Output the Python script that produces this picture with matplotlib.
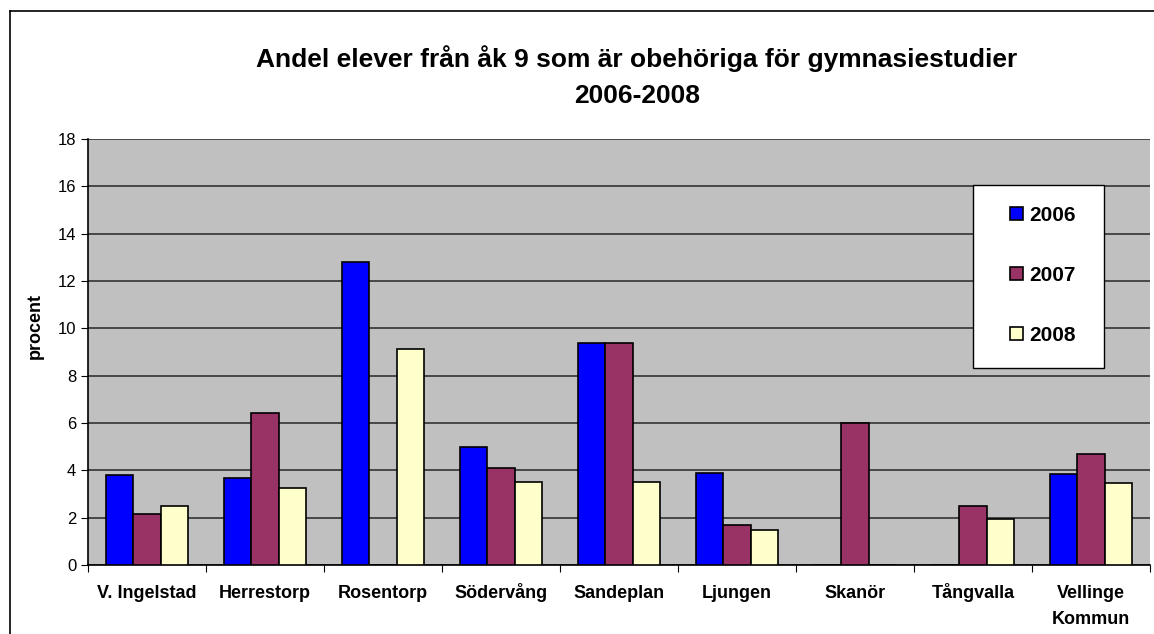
import matplotlib.pyplot as plt
import numpy as np
from matplotlib.lines import Line2D
from matplotlib.patches import Rectangle
from matplotlib.transforms import blended_transform_factory

plt.rcParams['font.family'] = ['Liberation Sans', 'DejaVu Sans']

# Andel obehöriga elever per skola och år
skolor = ['V. Ingelstad', 'Herrestorp', 'Rosentorp', 'Södervång', 'Sandeplan',
          'Ljungen', 'Skanör', 'Tångvalla', 'Vellinge\nKommun']
ar = ['2006', '2007', '2008']
v2006 = [3.8, 3.66, 12.79, 4.97, 9.39, 3.89, 0, 0, 3.83]
v2007 = [2.15, 6.41, 0, 4.1, 9.39, 1.70, 5.99, 2.51, 4.68]
v2008 = [2.5, 3.24, 9.11, 3.52, 3.52, 1.48, 0, 1.93, 3.45]
farger = ['#0000FF', '#993366', '#FFFFCC']

W, H = 1154, 634
fig = plt.figure(figsize=(W / 100, H / 100), dpi=100)

# ram runt diagrammet
fig.add_artist(Line2D([10 / W, 10 / W], [0, 1 - 11 / H], color='black', lw=1.2))
fig.add_artist(Line2D([10 / W, 1], [1 - 11 / H, 1 - 11 / H], color='black', lw=1.2))

ax = fig.add_axes([88 / W, (H - 565) / H, 1062 / W, 426 / H])
ax.set_facecolor('#C0C0C0')

x = np.arange(len(skolor))
bw = 0.23
for i, (vals, f) in enumerate(zip([v2006, v2007, v2008], farger)):
    ax.bar(x + (i - 1) * bw, vals, bw, color=f, edgecolor='black', linewidth=1.2,
           label=ar[i], zorder=3)

ax.set_xlim(-0.5, len(skolor) - 0.5)
ax.set_ylim(0, 18)
ax.set_yticks(range(0, 19, 2))
ax.yaxis.grid(True, color='#333333', linewidth=1.2, zorder=1)
ax.set_axisbelow(True)

ax.set_xticks(np.arange(len(skolor) + 1) - 0.5)
ax.set_xticklabels([])
ax.tick_params(axis='x', which='major', length=5, direction='out')
ax.tick_params(axis='y', labelsize=12, length=5, direction='out')

# kategorietiketter på gemensam baslinje
trans = blended_transform_factory(ax.transData, fig.transFigure)
for xi, namn in zip(x, skolor):
    for k, rad in enumerate(namn.split('\n')):
        ax.text(xi, 1 - (598 + 26 * k) / H, rad, transform=trans, ha='center',
                va='baseline', fontsize=13, fontweight='bold')

for s in ['top', 'right']:
    ax.spines[s].set_visible(False)
ax.spines['left'].set_linewidth(1.2)
ax.spines['bottom'].set_linewidth(1.2)

ax.set_ylabel('procent', fontweight='bold', fontsize=13)
ax.yaxis.set_label_coords(-0.042, (565 - 326) / 426)

fig.text(637 / W, 1 - 67 / H, 'Andel elever från åk 9 som är obehöriga för gymnasiestudier',
         ha='center', va='baseline', fontsize=19, fontweight='bold')
fig.text(637 / W, 1 - 103 / H, '2006-2008', ha='center', va='baseline',
         fontsize=19, fontweight='bold')

# legendruta
lx0, lx1, ly0, ly1 = 973, 1104, 185, 368
ax.add_patch(Rectangle(((lx0 - 88) / 1062, (565 - ly1) / 426), (lx1 - lx0) / 1062,
                       (ly1 - ly0) / 426, transform=ax.transAxes, facecolor='white',
                       edgecolor='black', linewidth=1.0, zorder=5))
leg = ax.legend(loc='upper left', bbox_to_anchor=((1010 - 88) / 1062, (565 - 206) / 426),
                frameon=False, prop={'weight': 'bold', 'size': 15},
                labelspacing=1.97, borderpad=0, handlelength=0.6, handleheight=0.6,
                handletextpad=0.3, borderaxespad=0)
leg.set_zorder(6)

fig.savefig('out.png', dpi=100)
